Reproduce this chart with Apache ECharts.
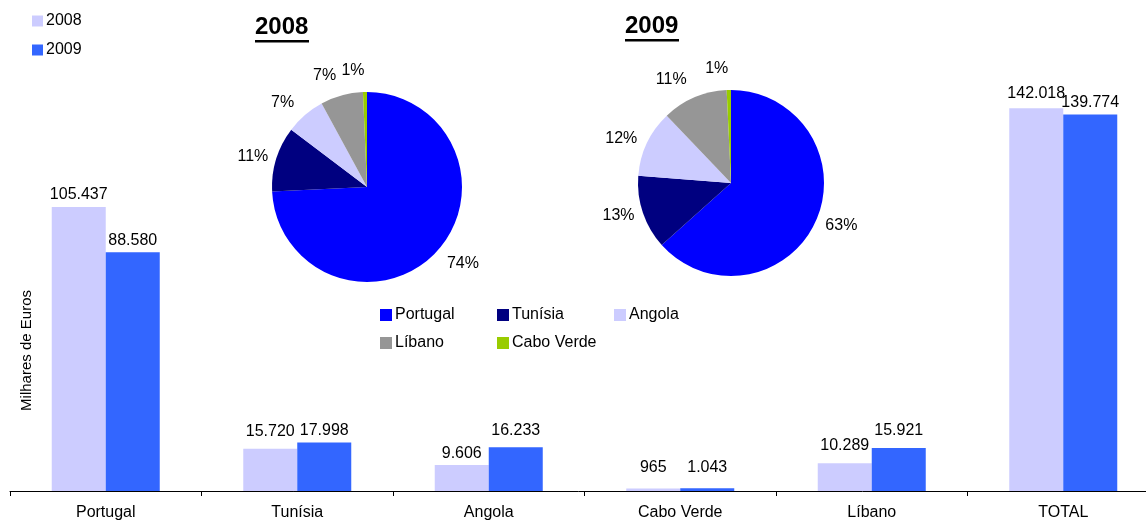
<!DOCTYPE html>
<html>
<head>
<meta charset="utf-8">
<script src="https://cdn.jsdelivr.net/npm/echarts@6/dist/echarts.min.js"></script>
<style>
  html, body { margin: 0; padding: 0; background: #fff; }
  #chart { width: 1146px; height: 522px; }
</style>
</head>
<body>
<div id="chart"></div>
<script>
// categorias e valores (milhares de euros)
const categories = ['Portugal', 'Tunísia', 'Angola', 'Cabo Verde', 'Líbano', 'TOTAL'];
const values2008 = [105437, 15720, 9606, 965, 10289, 142018];
const values2009 = [88580, 17998, 16233, 1043, 15921, 139774];

// fatias das tartes (ordem no sentido dos ponteiros)
const pieNames = ['Portugal', 'Tunísia', 'Angola', 'Líbano', 'Cabo Verde'];
const pie2008 = [105437, 15720, 9606, 10289, 965];
const pie2009 = [88580, 17998, 16233, 15921, 1043];
const pieColors = ['#0000ff', '#000080', '#ccccff', '#969696', '#99cc00'];

// etiquetas das barras que foram subidas à mão no original (px)
const labelLift2008 = [0, 5, 0, 9, 6, 3];
const labelLift2009 = [0, 0, 5, 9, 6, 0];

const FONT = '"Liberation Sans", Arial, Helvetica, sans-serif';

const fmt = v => String(v).replace(/\B(?=(\d{3})+(?!\d))/g, '.');

const barData = (vals, lifts) => vals.map((v, i) => ({
  value: v,
  label: { offset: [0, -lifts[i]] }
}));

// as etiquetas de topo ficam mais afastadas (como no Excel)
const pieData = vals => {
  const total = vals.reduce((a, b) => a + b, 0);
  let acc = 0;
  return vals.map((v, i) => {
    const mid = (acc + v / 2) / total * Math.PI * 2;
    acc += v;
    return {
      name: pieNames[i],
      value: v,
      itemStyle: { color: pieColors[i] },
      labelLine: { show: false, length: 3 + 18 * Math.abs(Math.cos(mid)), length2: 0 }
    };
  });
};

const pieSeries = (name, center, radius, vals) => ({
  name: name,
  type: 'pie',
  center: center,
  radius: radius,
  startAngle: 90,
  clockwise: true,
  avoidLabelOverlap: false,
  percentPrecision: 0,
  z: 5,
  label: {
    show: true,
    position: 'outside',
    formatter: '{d}%',
    color: '#000',
    fontSize: 16,
    fontFamily: FONT,
    distanceToLabelLine: 0
  },
  labelLine: { show: false },
  emphasis: { disabled: true },
  data: pieData(vals)
});

const barLabel = {
  show: true,
  position: 'top',
  distance: 4,
  color: '#000',
  fontSize: 16,
  fontFamily: FONT,
  formatter: p => fmt(p.value)
};

const myChart = echarts.init(document.getElementById('chart'));

const options = {
  animation: false,
  backgroundColor: '#fff',
  textStyle: { fontFamily: FONT, color: '#000' },
  grid: { left: 10, width: 1149, top: 6, bottom: 31, containLabel: false, outerBoundsMode: 'none' },
  legend: [
    {
      data: ['2008', '2009'],
      orient: 'vertical',
      left: 27,
      top: 8,
      itemWidth: 11,
      itemHeight: 11,
      itemGap: 13,
      icon: 'rect',
      textStyle: { fontSize: 16, color: '#000', fontFamily: FONT, padding: [0, 0, 0, -2] }
    },
    {
      data: pieNames,
      orient: 'horizontal',
      left: 375,
      top: 299,
      width: 360,
      itemWidth: 12,
      itemHeight: 12,
      itemGap: 6,
      icon: 'rect',
      textStyle: { fontSize: 16, color: '#000', fontFamily: FONT, width: 96, lineHeight: 22, padding: [0, 0, 0, -2] }
    }
  ],
  xAxis: {
    type: 'category',
    data: categories,
    boundaryGap: true,
    axisLine: { lineStyle: { color: '#000', width: 1 } },
    axisTick: { show: true, length: 5, lineStyle: { color: '#000' } },
    axisLabel: { color: '#000', fontSize: 16, margin: 14, fontFamily: FONT }
  },
  yAxis: {
    type: 'value',
    min: 0,
    max: 180000,
    show: false
  },
  graphic: [
    {
      type: 'text',
      left: 19,
      top: 290,
      rotation: Math.PI / 2,
      style: { text: 'Milhares de Euros', fill: '#000', font: '15px ' + FONT }
    },
    {
      type: 'group',
      left: 255,
      top: 15,
      children: [
        { type: 'text', style: { text: '2008', font: 'bold 24px ' + FONT, fill: '#000' } },
        { type: 'rect', shape: { x: 0, y: 25, width: 54, height: 2.5 }, style: { fill: '#000' } }
      ]
    },
    {
      type: 'group',
      left: 625,
      top: 14,
      children: [
        { type: 'text', style: { text: '2009', font: 'bold 24px ' + FONT, fill: '#000' } },
        { type: 'rect', shape: { x: 0, y: 25, width: 54, height: 2.5 }, style: { fill: '#000' } }
      ]
    }
  ],
  series: [
    {
      name: '2008',
      type: 'bar',
      data: barData(values2008, labelLift2008),
      barWidth: 54,
      barGap: '0%',
      itemStyle: { color: '#ccccff' },
      label: barLabel
    },
    {
      name: '2009',
      type: 'bar',
      data: barData(values2009, labelLift2009),
      barWidth: 54,
      barGap: '0%',
      itemStyle: { color: '#3366ff' },
      label: barLabel
    },
    pieSeries('2008 tarte', [367, 187], 95, pie2008),
    pieSeries('2009 tarte', [731, 183], 93, pie2009)
  ]
};

myChart.setOption(options);
</script>
</body>
</html>
